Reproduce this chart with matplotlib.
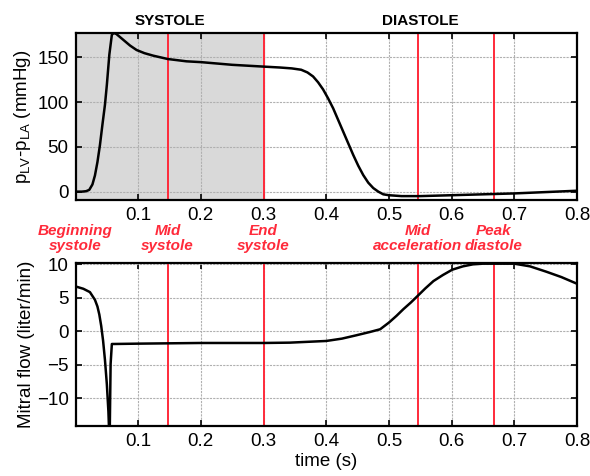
import numpy as np
import matplotlib
matplotlib.use('Agg')
import matplotlib.pyplot as plt

plt.rcParams['font.family'] = ['Liberation Sans', 'DejaVu Sans']
plt.rcParams['mathtext.fontset'] = 'custom'
plt.rcParams['mathtext.rm'] = 'Liberation Sans'
plt.rcParams['mathtext.it'] = 'Liberation Sans:italic'

# pressure difference LV-LA (mmHg)
t_p = [0, 0.01, 0.017, 0.022, 0.027, 0.031, 0.035, 0.039, 0.043, 0.047, 0.050,
       0.054, 0.058, 0.061, 0.065, 0.076, 0.087, 0.0975, 0.11, 0.124, 0.147,
       0.177, 0.2, 0.25, 0.3, 0.326, 0.345, 0.36, 0.37, 0.379, 0.387, 0.395,
       0.403, 0.411, 0.419, 0.427, 0.435, 0.443, 0.451, 0.459, 0.467, 0.475,
       0.483, 0.491, 0.5, 0.52, 0.55, 0.6, 0.65, 0.7, 0.75, 0.8]
p_diff = [0, 0, 0.5, 2, 8, 18, 33, 52, 75, 97, 119,
          153, 175, 177, 176, 169.5, 163, 158, 154.5, 151.7, 148,
          145.4, 144.5, 141.5, 139.5, 138.5, 137.5, 136, 133, 128.5, 122, 114,
          104, 93, 80, 67, 54, 41, 29, 18.5, 10, 4,
          0, -3, -4, -5, -5, -4, -3, -2, -0.5, 1]

# mitral flow (liter/min)
t_q = [0, 0.0125, 0.023, 0.031, 0.035, 0.038, 0.041, 0.044, 0.047, 0.050,
       0.0525, 0.054, 0.0545, 0.056, 0.058, 0.062, 0.1, 0.15, 0.2, 0.25, 0.3,
       0.342, 0.4, 0.425, 0.448, 0.47, 0.486, 0.5, 0.512, 0.523, 0.535, 0.546,
       0.558, 0.571, 0.586, 0.601, 0.618, 0.634, 0.65, 0.666, 0.7, 0.725,
       0.751, 0.775, 0.8]
q_flow = [6.7, 6.35, 5.85, 4.7, 3.7, 2.5, 0.8, -1.4, -4.3, -7.9,
          -12, -16, -16, -4.9, -1.9, -1.9, -1.85, -1.8, -1.75, -1.75, -1.75,
          -1.7, -1.45, -1.1, -0.6, -0.1, 0.3, 1.3, 2.3, 3.3, 4.3, 5.3,
          6.4, 7.5, 8.4, 9.2, 9.7, 10.0, 10.1, 10.1, 10.1, 9.7,
          8.9, 8.1, 7.1]

event_t = [0, 0.147, 0.3, 0.546, 0.667]
event_lbl = ['Beginning\nsystole', 'Mid\nsystole', 'End\nsystole',
             'Mid\nacceleration', 'Peak\ndiastole']
phase_lbl = ['SYSTOLE', 'DIASTOLE']
phase_t = [0.15, 0.55]
xticks = [0.1, 0.2, 0.3, 0.4, 0.5, 0.6, 0.7, 0.8]

red = '#ff2a3a'
W, H = 590, 476
fig = plt.figure(figsize=(W / 100, H / 100), dpi=100)
ax1 = fig.add_axes([75.5 / W, 1 - 199.7 / H, (577 - 75.5) / W, (199.7 - 33) / H])
ax2 = fig.add_axes([75.5 / W, 1 - 426.3 / H, (577 - 75.5) / W, (426.3 - 263) / H])

def style(ax):
    ax.set_xlim(0, 0.8)
    ax.set_xticks(xticks)
    ax.set_xticklabels([f'{v:.1f}' for v in xticks])
    ax.grid(True, color='#b0b0b0', linestyle=(0, (2, 1)), linewidth=0.8)
    ax.set_axisbelow(True)
    ax.tick_params(direction='in', top=True, right=True, length=4, width=1.2,
                   labelsize=13.5, pad=5)
    for s in ax.spines.values():
        s.set_linewidth(1.6)

# top panel
ax1.axvspan(0, 0.3, color='#d9d9d9', zorder=0)
for tv in event_t:
    ax1.axvline(tv, color=red, lw=1.4, zorder=2)
ax1.plot(t_p, p_diff, color='black', lw=1.8, zorder=3)
ax1.set_ylim(-9, 177)
ax1.set_yticks([0, 50, 100, 150])
style(ax1)
ax1.set_ylabel(r'p$_{\mathrm{LV}}$-p$_{\mathrm{LA}}$ (mmHg)', fontsize=13.5, labelpad=3)
for lbl, tv in zip(phase_lbl, phase_t):
    ax1.text(tv, 1.03, lbl, transform=ax1.get_xaxis_transform(), ha='center',
             va='bottom', fontsize=11, fontweight='bold')

# bottom panel
for tv in event_t:
    ax2.axvline(tv, color=red, lw=1.4, zorder=2)
ax2.plot(t_q, q_flow, color='black', lw=1.8, zorder=3)
ax2.set_ylim(-14.2, 10.2)
ax2.set_yticks([-10, -5, 0, 5, 10])
style(ax2)
ax2.set_ylabel('Mitral flow (liter/min)', fontsize=13.5, labelpad=1)
ax2.set_xlabel('time (s)', fontsize=13.5, labelpad=2)

for lbl, tv in zip(event_lbl, event_t):
    ax2.text(tv, 1.15, lbl, transform=ax2.get_xaxis_transform(), ha='center',
             va='center', fontsize=11, fontweight='bold', style='italic',
             color=red, linespacing=1.1)

fig.savefig('out.png', dpi=100)
